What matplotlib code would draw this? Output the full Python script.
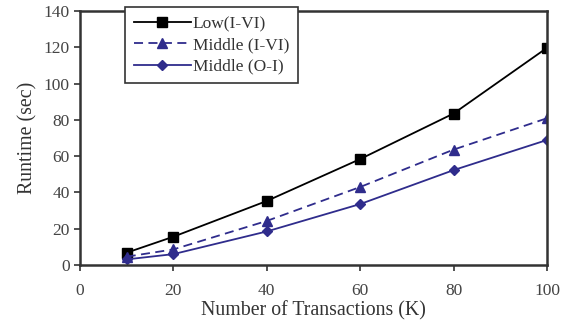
import matplotlib
matplotlib.use('Agg')
import matplotlib.pyplot as plt

plt.rcParams['font.family'] = ['Liberation Serif', 'DejaVu Serif']

transacciones = [10, 20, 40, 60, 80, 100]
low_i_vi = [6.8, 15.6, 35.3, 58.4, 83.5, 119.7]
middle_i_vi = [4.6, 8.6, 24.3, 43.0, 63.6, 80.9]
middle_o_i = [3.1, 6.0, 18.5, 33.6, 52.3, 68.9]

azul = '#2f2c8c'

fig = plt.figure(figsize=(5.7, 3.22), dpi=100)
ax = fig.add_axes([0.1404, 0.177, 0.8192, 0.7888])

ax.plot(transacciones, low_i_vi, color='black', linewidth=1.3, marker='s',
        markersize=6.5, label='Low(I-VI)')
ax.plot(transacciones, middle_i_vi, color=azul, linewidth=1.3, linestyle=(0, (5, 3)),
        marker='^', markersize=7, label='Middle (I-VI)')
ax.plot(transacciones, middle_o_i, color=azul, linewidth=1.3, marker='D',
        markersize=5.5, label='Middle (O-I)')

ax.set_xlim(0, 100)
ax.set_ylim(0, 140)
ax.set_xticks(range(0, 101, 20))
ax.set_yticks(range(0, 141, 20))
ax.tick_params(direction='out', length=4, width=1.2, labelsize=12.5, colors='#333333')
ax.tick_params(axis='x', pad=9)
ax.tick_params(labelcolor='#444444')

for s in ax.spines.values():
    s.set_linewidth(1.8)
    s.set_color('#333333')

ax.set_xlabel('Number of Transactions (K)', fontsize=14.3, color='#333333', labelpad=1.5)
ax.set_ylabel('Runtime (sec)', fontsize=14.3, color='#333333', labelpad=4)

leg = ax.legend(loc='upper left', bbox_to_anchor=(0.096, 1.015), fontsize=12.5,
                frameon=True, fancybox=False, edgecolor='#333333', framealpha=1,
                borderpad=0.5, labelspacing=0.3, handlelength=3.3, handletextpad=0.1,
                borderaxespad=0)
leg.get_frame().set_linewidth(1.2)
for t in leg.get_texts():
    t.set_color('#333333')

fig.savefig('out.png', dpi=100)
